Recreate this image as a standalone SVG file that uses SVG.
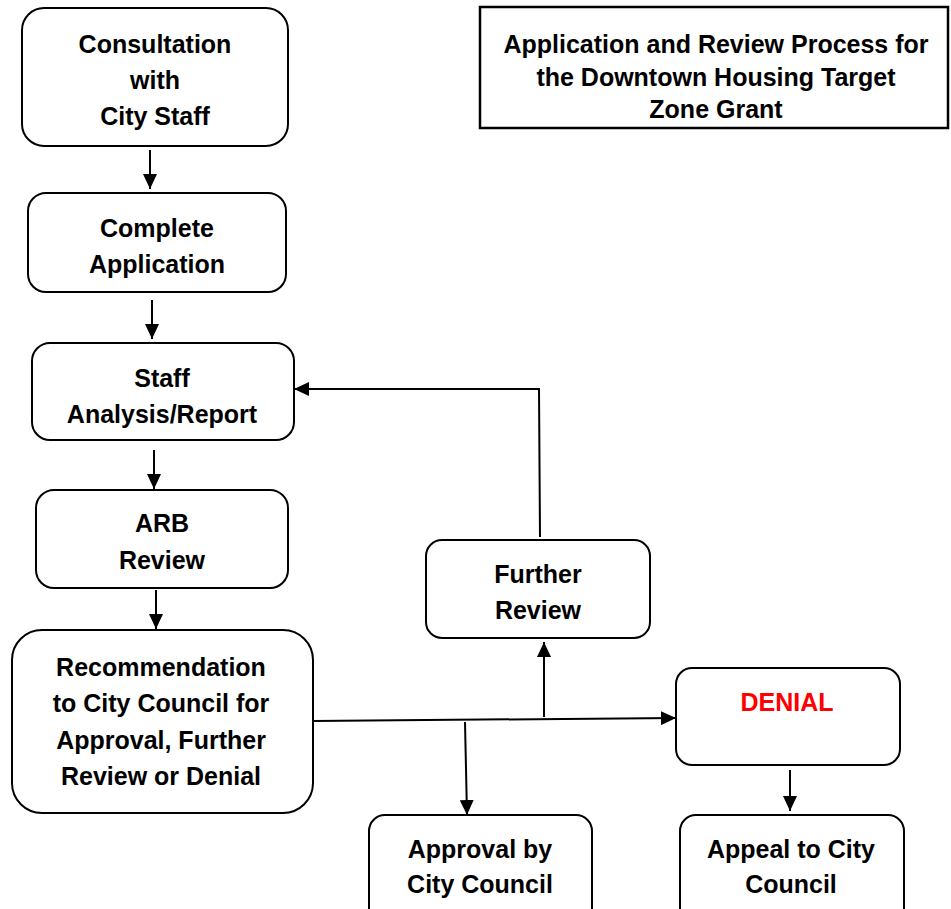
<svg xmlns="http://www.w3.org/2000/svg" width="951" height="909" viewBox="0 0 951 909">
<style>
.box{fill:#fff;stroke:#000;stroke-width:2}
.t{font-family:"Liberation Sans",Arial,sans-serif;font-weight:bold;font-size:25px;text-anchor:middle;fill:#000}
.red{fill:#ff0000}
.c{fill:none;stroke:#000;stroke-width:2}
</style>
<defs>
<marker id="ah" markerUnits="userSpaceOnUse" markerWidth="16" markerHeight="14" refX="15" refY="7" orient="auto">
<path d="M0,0 L15,7 L0,14 z" fill="#000"/>
</marker>
</defs>
<rect width="951" height="909" fill="#fff"/>
<g id="connectors">
<line class="c" x1="150" y1="150" x2="150" y2="189" marker-end="url(#ah)"/>
<line class="c" x1="152" y1="300" x2="152" y2="339" marker-end="url(#ah)"/>
<line class="c" x1="154" y1="450" x2="154" y2="489" marker-end="url(#ah)"/>
<line class="c" x1="156" y1="590" x2="156" y2="629" marker-end="url(#ah)"/>
<polyline class="c" points="540,537 539,389 294,389" marker-end="url(#ah)"/>
<line class="c" x1="313" y1="721" x2="676" y2="718" marker-end="url(#ah)"/>
<line class="c" x1="544" y1="717" x2="544" y2="642" marker-end="url(#ah)"/>
<line class="c" x1="465" y1="722" x2="467" y2="815" marker-end="url(#ah)"/>
<line class="c" x1="790" y1="770" x2="790" y2="811" marker-end="url(#ah)"/>
</g>
<g id="title">
<rect x="480" y="7" width="468" height="121" fill="#fff" stroke="#000" stroke-width="2.5"/>
<text class="t" x="716" y="53">Application and Review Process for</text>
<text class="t" x="716" y="86">the Downtown Housing Target</text>
<text class="t" x="716" y="118">Zone Grant</text>
</g>
<g id="consultation">
<rect class="box" x="22" y="8" width="266" height="138" rx="22"/>
<text class="t" x="155" y="53">Consultation</text>
<text class="t" x="155" y="89">with</text>
<text class="t" x="155" y="125">City Staff</text>
</g>
<g id="complete">
<rect class="box" x="28" y="193" width="258" height="99" rx="18"/>
<text class="t" x="157" y="237">Complete</text>
<text class="t" x="157" y="273">Application</text>
</g>
<g id="staff">
<rect class="box" x="32" y="343" width="262" height="97" rx="18"/>
<text class="t" x="162" y="387">Staff</text>
<text class="t" x="162" y="423">Analysis/Report</text>
</g>
<g id="arb">
<rect class="box" x="36" y="490" width="252" height="98" rx="18"/>
<text class="t" x="162" y="532">ARB</text>
<text class="t" x="162" y="569">Review</text>
</g>
<g id="recommendation">
<rect class="box" x="12" y="630" width="301" height="183" rx="30"/>
<text class="t" x="161" y="676">Recommendation</text>
<text class="t" x="161" y="712">to City Council for</text>
<text class="t" x="161" y="749">Approval, Further</text>
<text class="t" x="161" y="785">Review or Denial</text>
</g>
<g id="further">
<rect class="box" x="426" y="540" width="224" height="98" rx="16"/>
<text class="t" x="538" y="583">Further</text>
<text class="t" x="538" y="619">Review</text>
</g>
<g id="denial">
<rect class="box" x="676" y="668" width="224" height="97" rx="16"/>
<text class="t red" x="787" y="711">DENIAL</text>
</g>
<g id="approval">
<rect class="box" x="369" y="815" width="223" height="110" rx="16"/>
<text class="t" x="480" y="858">Approval by</text>
<text class="t" x="480" y="893">City Council</text>
</g>
<g id="appeal">
<rect class="box" x="680" y="815" width="224" height="110" rx="16"/>
<text class="t" x="791" y="858">Appeal to City</text>
<text class="t" x="791" y="893">Council</text>
</g>
</svg>
